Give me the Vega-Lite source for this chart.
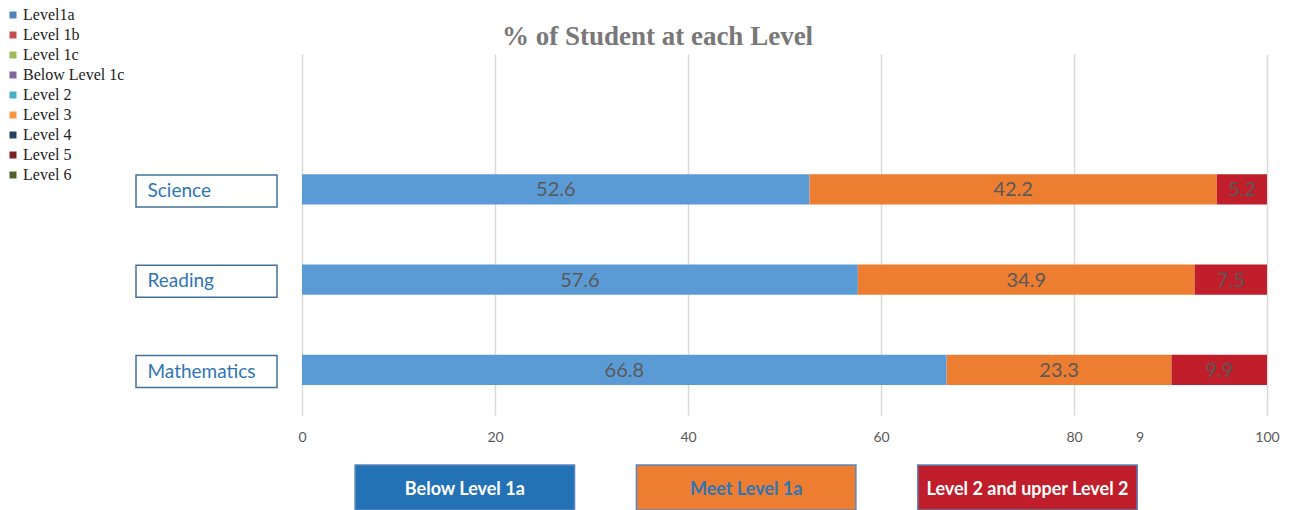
{
  "$schema": "https://vega.github.io/schema/vega-lite/v6.json",
  "padding": {"left": 5, "top": 7, "right": 23, "bottom": 0},
  "background": "white",
  "bounds": "full",
  "spacing": 20,
  "resolve": {"scale": {"color": "independent", "fill": "independent", "x": "independent", "y": "independent"}, "legend": {"color": "independent"}},
  "config": {"view": {"stroke": null}, "font": "Lato"},
  "datasets": {
    "scores": [
      {"subject": "Science", "level": "Below Level 1a", "pct": 52.6, "order": 1},
      {"subject": "Science", "level": "Meet Level 1a", "pct": 42.2, "order": 2},
      {"subject": "Science", "level": "Level 2 and upper Level 2", "pct": 5.2, "order": 3},
      {"subject": "Reading", "level": "Below Level 1a", "pct": 57.6, "order": 1},
      {"subject": "Reading", "level": "Meet Level 1a", "pct": 34.9, "order": 2},
      {"subject": "Reading", "level": "Level 2 and upper Level 2", "pct": 7.5, "order": 3},
      {"subject": "Mathematics", "level": "Below Level 1a", "pct": 66.8, "order": 1},
      {"subject": "Mathematics", "level": "Meet Level 1a", "pct": 23.3, "order": 2},
      {"subject": "Mathematics", "level": "Level 2 and upper Level 2", "pct": 9.9, "order": 3}
    ],
    "subjects": [
      {"subject": "Science"},
      {"subject": "Reading"},
      {"subject": "Mathematics"}
    ],
    "legendItems": [
      {"item": "Level1a"},
      {"item": "Level 1b"},
      {"item": "Level 1c"},
      {"item": "Below Level 1c"},
      {"item": "Level 2"},
      {"item": "Level 3"},
      {"item": "Level 4"},
      {"item": "Level 5"},
      {"item": "Level 6"}
    ],
    "keys": [
      {"level": "Below Level 1a"},
      {"level": "Meet Level 1a"},
      {"level": "Level 2 and upper Level 2"}
    ]
  },
  "vconcat": [
    {
      "bounds": "flush",
      "spacing": 25,
      "resolve": {"scale": {"color": "independent", "y": "independent"}, "legend": {"color": "independent"}},
      "hconcat": [
        {
          "width": 141,
          "height": 361,
          "layer": [
            {
              "data": {"name": "subjects"},
              "mark": {"type": "rect", "fill": "white", "stroke": "#41719c", "strokeWidth": 1.5},
              "encoding": {
                "y": {
                  "field": "subject",
                  "type": "nominal",
                  "sort": ["Science", "Reading", "Mathematics"],
                  "scale": {"paddingInner": 0.645, "paddingOuter": 0.8225, "align": 0.815},
                  "axis": {
                    "title": null,
                    "domain": false,
                    "ticks": false,
                    "tickSize": 0,
                    "labelAlign": "left",
                    "labelPadding": -11,
                    "labelFont": "Lato",
                    "labelFontSize": 19,
                    "labelColor": "#2e75b6",
                    "zindex": 1
                  }
                }
              }
            },
            {
              "data": {"name": "legendItems"},
              "mark": {"type": "square", "opacity": 0},
              "encoding": {
                "color": {
                  "field": "item",
                  "type": "nominal",
                  "scale": {
                    "domain": ["Level1a", "Level 1b", "Level 1c", "Below Level 1c", "Level 2", "Level 3", "Level 4", "Level 5", "Level 6"],
                    "range": ["#4f81bd", "#c0504d", "#9bbb59", "#8064a2", "#4bacc6", "#f79646", "#254061", "#7b2226", "#4f6228"]
                  },
                  "legend": {
                    "orient": "none",
                    "legendX": -131,
                    "legendY": -47,
                    "title": null,
                    "padding": 0,
                    "symbolType": "square",
                    "symbolSize": 49,
                    "symbolOpacity": 1,
                    "symbolStrokeWidth": 0,
                    "labelFont": "Liberation Serif",
                    "labelFontSize": 16,
                    "labelColor": "#222222",
                    "labelOffset": 2,
                    "rowPadding": 4
                  }
                }
              }
            }
          ]
        },
        {
          "width": 965,
          "height": 361,
          "data": {"name": "scores"},
          "title": {
            "text": "% of Student at each Level",
            "font": "Liberation Serif",
            "fontSize": 27,
            "fontWeight": "bold",
            "color": "#787878",
            "anchor": "middle",
            "dx": -127,
            "offset": 3
          },
          "encoding": {
            "y": {
              "field": "subject",
              "type": "nominal",
              "sort": ["Science", "Reading", "Mathematics"],
              "scale": {"paddingInner": 0.6667, "paddingOuter": 0.8333, "align": 0.8},
              "axis": null
            }
          },
          "layer": [
            {
              "mark": {"type": "bar"},
              "encoding": {
                "x": {
                  "field": "pct",
                  "type": "quantitative",
                  "stack": "zero",
                  "scale": {"domain": [0, 100]},
                  "axis": {
                    "values": [0, 20, 40, 60, 80, 86.8, 100],
                    "labelExpr": "datum.value == 86.8 ? '9' : datum.label",
                    "title": null,
                    "domain": false,
                    "ticks": false,
                    "labelFlush": false,
                    "labelPadding": 15,
                    "labelFont": "Lato",
                    "labelFontSize": 14,
                    "labelColor": "#595959",
                    "gridColor": "#d9d9d9",
                    "gridWidth": 1.5,
                    "gridOpacity": {"condition": {"test": "datum.value == 86.8", "value": 0}, "value": 1}
                  }
                },
                "color": {
                  "field": "level",
                  "type": "nominal",
                  "scale": {
                    "domain": ["Below Level 1a", "Meet Level 1a", "Level 2 and upper Level 2"],
                    "range": ["#5b9bd5", "#ed7d31", "#c01e2a"]
                  },
                  "legend": null
                },
                "order": {"field": "order", "type": "quantitative"}
              }
            },
            {
              "mark": {"type": "text", "font": "Lato", "fontSize": 20, "color": "#595959", "dy": 1},
              "encoding": {
                "x": {"field": "pct", "type": "quantitative", "stack": "zero", "bandPosition": 0.5},
                "text": {"field": "pct", "type": "quantitative", "format": ".1f"},
                "detail": {"field": "level"},
                "order": {"field": "order", "type": "quantitative"}
              }
            }
          ]
        }
      ]
    },
    {
      "width": 1131,
      "height": 45,
      "data": {"name": "keys"},
      "resolve": {"scale": {"color": "independent", "fill": "independent"}},
      "encoding": {
        "x": {
          "field": "level",
          "type": "nominal",
          "sort": null,
          "scale": {"paddingInner": 0.22, "paddingOuter": 0.62, "align": 0.628},
          "axis": null
        }
      },
      "layer": [
        {
          "mark": {"type": "rect", "stroke": "#5a86bd", "strokeWidth": 1.5},
          "encoding": {
            "fill": {
              "field": "level",
              "type": "nominal",
              "scale": {
                "domain": ["Below Level 1a", "Meet Level 1a", "Level 2 and upper Level 2"],
                "range": ["#2372b5", "#ed7d31", "#c01e2a"]
              },
              "legend": null
            }
          }
        },
        {
          "mark": {"type": "text", "font": "Lato", "fontSize": 18, "fontWeight": "bold", "dy": 2},
          "encoding": {
            "text": {"field": "level"},
            "color": {
              "field": "level",
              "type": "nominal",
              "scale": {
                "domain": ["Below Level 1a", "Meet Level 1a", "Level 2 and upper Level 2"],
                "range": ["#ffffff", "#2e75b6", "#ffffff"]
              },
              "legend": null
            }
          }
        }
      ]
    }
  ]
}
